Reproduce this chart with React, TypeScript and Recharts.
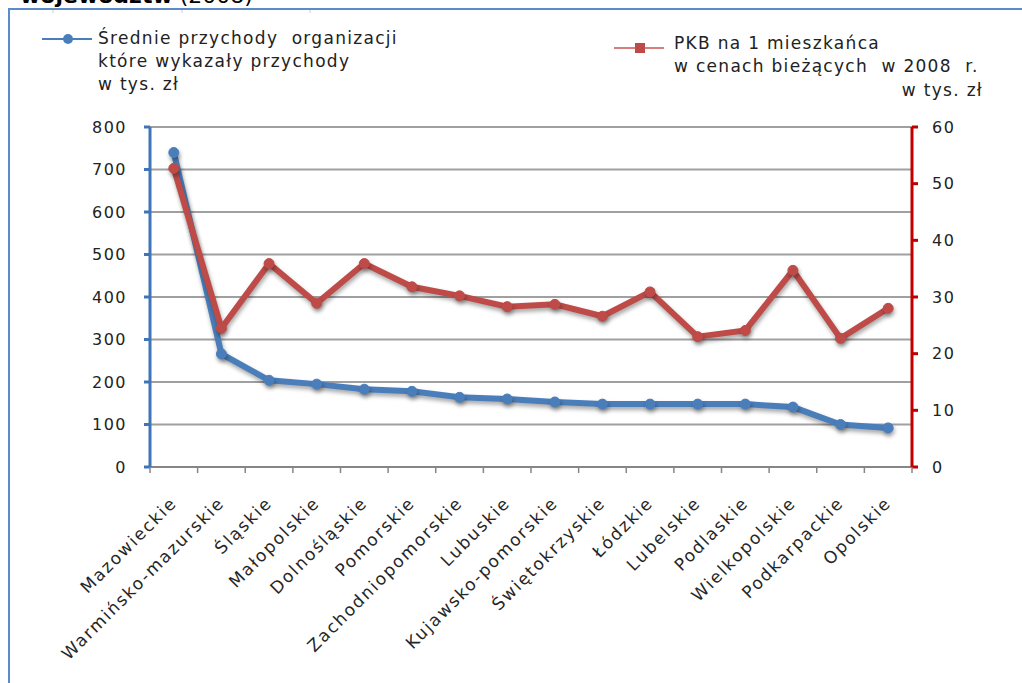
import { LineChart, Line, XAxis, YAxis, CartesianGrid } from "recharts";

const regions = [
  "Mazowieckie",
  "Warmińsko-mazurskie",
  "Śląskie",
  "Małopolskie",
  "Dolnośląskie",
  "Pomorskie",
  "Zachodniopomorskie",
  "Lubuskie",
  "Kujawsko-pomorskie",
  "Świętokrzyskie",
  "Łódzkie",
  "Lubelskie",
  "Podlaskie",
  "Wielkopolskie",
  "Podkarpackie",
  "Opolskie",
];

// średnie przychody organizacji (tys. zł) – lewa oś
const revenue = [740, 266, 204, 195, 183, 178, 164, 160, 153, 148, 148, 148, 148, 141, 100, 92];
// PKB na 1 mieszkańca (tys. zł) – prawa oś
const gdp = [52.7, 24.5, 35.9, 28.9, 35.9, 31.8, 30.2, 28.3, 28.7, 26.6, 30.9, 23.0, 24.1, 34.7, 22.7, 28.0];

const leftTicks = [0, 100, 200, 300, 400, 500, 600, 700, 800];
const rightTicks = [0, 10, 20, 30, 40, 50, 60];

const data = regions.map((name, i) => ({ name, revenue: revenue[i], gdp: gdp[i] }));

const FONT = "'DejaVu Sans', Verdana, sans-serif";
const BLUE = "#4a7ebb";
const RED = "#be4b48";
const HALF_BAND = (912 - 150) / regions.length / 2;

function RegionTick(props: any) {
  const { x, y, payload, index } = props;
  const last = index === regions.length - 1;
  const tx = x + 4;
  const ty = y + 37;
  return (
    <g>
      <line x1={x - HALF_BAND} x2={x - HALF_BAND} y1={y} y2={y + 6} stroke="#868686" strokeWidth={1.5} />
      {last && <line x1={x + HALF_BAND} x2={x + HALF_BAND} y1={y} y2={y + 6} stroke="#868686" strokeWidth={1.5} />}
      <text
        x={tx}
        y={ty}
        textAnchor="end"
        transform={`rotate(-45 ${tx} ${ty})`}
        fontSize={17}
        letterSpacing={1.8}
        fontFamily={FONT}
        fill="#262626"
      >
        {payload.value}
      </text>
    </g>
  );
}

export default function App() {
  const legendText = {
    fontFamily: FONT,
    fontSize: 17,
    letterSpacing: 1.3,
    color: "#222",
    lineHeight: "23px",
    whiteSpace: "pre" as const,
  };
  return (
    <div style={{ position: "absolute", left: 0, top: 0, width: 1022, height: 683, overflow: "hidden", background: "#fff" }}>
      <style>{`.recharts-line-curve, .recharts-line-dots { filter: drop-shadow(1px 3px 2px rgba(0,0,0,0.35)); }`}</style>
      <div style={{ position: "absolute", left: 20, top: -17, fontFamily: FONT, fontSize: 22, whiteSpace: "pre" }}>
        <b>województw</b> (2008)
      </div>
      <div style={{ position: "absolute", left: 8, top: 8, width: 1100, height: 800, borderLeft: "2px solid #5b8cc9", borderTop: "2px solid #5b8cc9" }} />

      <LineChart width={1022} height={683} data={data} margin={{ top: 127, right: 0, bottom: 0, left: 0 }}>
        <CartesianGrid vertical={false} stroke="#a0a0a0" strokeWidth={2} yAxisId="left" />
        <XAxis
          dataKey="name"
          interval={0}
          height={216}
          padding={{ left: HALF_BAND, right: HALF_BAND }}
          tickSize={0}
          tickMargin={0}
          tickLine={false}
          axisLine={{ stroke: "#868686", strokeWidth: 2 }}
          tick={<RegionTick />}
        />
        <YAxis
          yAxisId="left"
          orientation="left"
          width={150}
          domain={[0, 800]}
          ticks={leftTicks}
          interval={0}
          tickSize={6}
          tickMargin={17}
          axisLine={{ stroke: "#3f74b9", strokeWidth: 3 }}
          tickLine={{ stroke: "#3f74b9", strokeWidth: 3 }}
          tick={{ fontSize: 16, fontFamily: FONT, fill: "#222", letterSpacing: 1.5 }}
        />
        <YAxis
          yAxisId="right"
          orientation="right"
          width={110}
          domain={[0, 60]}
          ticks={rightTicks}
          interval={0}
          tickSize={6}
          tickMargin={14}
          axisLine={{ stroke: "#c00000", strokeWidth: 3 }}
          tickLine={{ stroke: "#c00000", strokeWidth: 3 }}
          tick={{ fontSize: 16, fontFamily: FONT, fill: "#222", textAnchor: "start", letterSpacing: 1.5 }}
        />
        <Line
          yAxisId="left"
          dataKey="revenue"
          type="linear"
          stroke={BLUE}
          strokeWidth={6}
          dot={{ r: 5, fill: BLUE, stroke: BLUE, strokeWidth: 1 }}
          isAnimationActive={false}
        />
        <Line
          yAxisId="right"
          dataKey="gdp"
          type="linear"
          stroke={RED}
          strokeWidth={6}
          dot={{ r: 5, fill: RED, stroke: RED, strokeWidth: 1 }}
          isAnimationActive={false}
        />
      </LineChart>

      {/* legenda */}
      <svg style={{ position: "absolute", left: 0, top: 0 }} width={1022} height={110}>
        <line x1={53} x2={53} y1={10} y2={13} stroke="#c8d0dc" />
        <line x1={182} x2={182} y1={10} y2={13} stroke="#c8d0dc" />
        <line x1={310} x2={310} y1={10} y2={13} stroke="#c8d0dc" />
        <line x1={42} x2={92} y1={39} y2={39} stroke={BLUE} strokeWidth={2} />
        <circle cx={68} cy={39} r={5} fill={BLUE} />
        <line x1={614} x2={664} y1={48} y2={48} stroke="#d47f7d" strokeWidth={2} />
        <rect x={635} y={43} width={10} height={10} fill={RED} />
      </svg>
      <div style={{ ...legendText, position: "absolute", left: 98, top: 27 }}>
        {"Średnie przychody  organizacji\nktóre wykazały przychody\nw tys. zł"}
      </div>
      <div style={{ ...legendText, position: "absolute", left: 674, top: 32 }}>
        {"PKB na 1 mieszkańca\nw cenach bieżących  w 2008  r."}
      </div>
      <div style={{ ...legendText, position: "absolute", right: 39, top: 79 }}>w tys. zł</div>
    </div>
  );
}
